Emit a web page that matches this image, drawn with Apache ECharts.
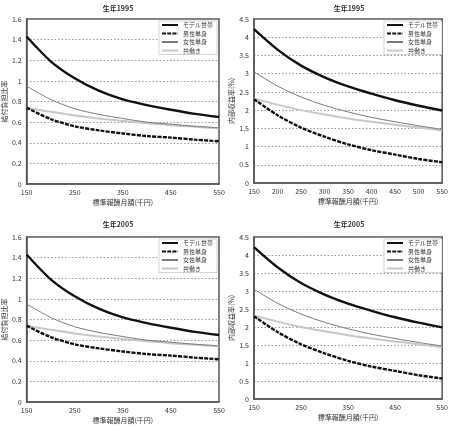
<!DOCTYPE html>
<html><head><meta charset="utf-8">
<script src="https://cdn.jsdelivr.net/npm/echarts@6/dist/echarts.min.js"></script>
<style>html,body{margin:0;padding:0;background:#fff}#c{width:451px;height:430px}</style>
</head><body><div id="c"></div>
<script>
const salary = [150, 200, 250, 300, 350, 400, 450, 500, 550];
const seriesNames = ['モデル世帯', '男性単身', '女性単身', '共働き'];
const titles = ['生年1995', '生年1995', '生年2005', '生年2005'];
const yNames = ['給付負担比率', '内部収益率(%)', '給付負担比率', '内部収益率(%)'];
const xAxisName = '標準報酬月額(千円)';

// 給付負担比率 (birth year 1995)
const ratio1995Model  = [1.43, 1.19, 1.025, 0.905, 0.82, 0.765, 0.72, 0.68, 0.65];
const ratio1995Male   = [0.74, 0.63, 0.56, 0.52, 0.49, 0.465, 0.45, 0.43, 0.415];
const ratio1995Female = [0.95, 0.82, 0.73, 0.675, 0.635, 0.60, 0.58, 0.56, 0.545];
const ratio1995Dual   = [0.74, 0.70, 0.665, 0.635, 0.61, 0.59, 0.57, 0.555, 0.54];
// 内部収益率 (birth year 1995)
const irr1995Model  = [4.22, 3.66, 3.22, 2.9, 2.65, 2.45, 2.27, 2.12, 1.99];
const irr1995Male   = [2.3, 1.86, 1.52, 1.27, 1.06, 0.9, 0.78, 0.66, 0.57];
const irr1995Female = [3.05, 2.66, 2.36, 2.13, 1.95, 1.8, 1.68, 1.57, 1.47];
const irr1995Dual   = [2.32, 2.15, 2.0, 1.88, 1.77, 1.68, 1.6, 1.52, 1.44];
// 給付負担比率 (birth year 2005)
const ratio2005Model  = [1.43, 1.19, 1.025, 0.905, 0.82, 0.765, 0.72, 0.68, 0.65];
const ratio2005Male   = [0.74, 0.63, 0.56, 0.52, 0.49, 0.465, 0.45, 0.43, 0.415];
const ratio2005Female = [0.95, 0.82, 0.73, 0.675, 0.635, 0.60, 0.58, 0.56, 0.545];
const ratio2005Dual   = [0.74, 0.70, 0.665, 0.635, 0.61, 0.59, 0.57, 0.555, 0.54];
// 内部収益率 (birth year 2005)
const irr2005Model  = [4.22, 3.66, 3.22, 2.9, 2.65, 2.45, 2.27, 2.12, 1.99];
const irr2005Male   = [2.3, 1.86, 1.52, 1.27, 1.06, 0.9, 0.78, 0.66, 0.57];
const irr2005Female = [3.05, 2.66, 2.36, 2.13, 1.95, 1.8, 1.68, 1.57, 1.47];
const irr2005Dual   = [2.32, 2.15, 2.0, 1.88, 1.77, 1.68, 1.6, 1.52, 1.44];

const panels = [
  [ratio1995Model, ratio1995Male, ratio1995Female, ratio1995Dual],
  [irr1995Model, irr1995Male, irr1995Female, irr1995Dual],
  [ratio2005Model, ratio2005Male, ratio2005Female, ratio2005Dual],
  [irr2005Model, irr2005Male, irr2005Female, irr2005Dual]
];

const FONT = '"Noto Sans CJK JP", "Noto Sans", sans-serif';
const grids = [
  {left: 22, top: 19, width: 197, height: 165},
  {left: 254, top: 19, width: 190, height: 164},
  {left: 22, top: 237, width: 197, height: 165},
  {left: 254, top: 237, width: 190, height: 162}
];
const yCfg = [
  {max: 1.6, interval: 0.2},
  {max: 4.5, interval: 0.5},
  {max: 1.6, interval: 0.2},
  {max: 4.5, interval: 0.5}
];
const xInterval = [100, 50, 100, 100];
const titleX = [113, 344, 113, 344];
const titleY = [0, 0, 216, 216];

const lineStyles = [
  {color: '#111', width: 2.4, type: 'solid'},
  {color: '#111', width: 2.4, type: [4, 1.2]},
  {color: '#7a7a7a', width: 1, type: 'solid'},
  {color: '#c8c8c8', width: 2, type: 'solid'}
];

const option = {
  backgroundColor: '#fff',
  animation: false,
  textStyle: {fontFamily: FONT},
  title: titles.map((t, i) => ({
    text: t, left: titleX[i], top: titleY[i], textAlign: 'center',
    textStyle: {fontSize: 7, fontWeight: 'bold', color: '#333', fontFamily: FONT}
  })),
  legend: grids.map((g, i) => ({
    data: seriesNames.slice(),
    orient: 'vertical',
    right: 451 - (g.left + g.width) + 2,
    top: g.top + 2,
    itemWidth: 16, itemHeight: 5, itemGap: 2.5,
    padding: [1, 4, 1, 2],
    backgroundColor: '#fff',
    borderColor: '#aaa', borderWidth: 0.5,
    itemStyle: {opacity: 0},
    textStyle: {fontSize: 6, color: '#333', fontFamily: FONT}
  })),
  grid: grids.map(g => Object.assign({containLabel: false, show: true, borderColor: '#555', borderWidth: 1.5, backgroundColor: '#fff'}, g)),
  xAxis: grids.map((g, i) => ({
    type: 'value', gridIndex: i, min: 150, max: 550, interval: xInterval[i],
    name: xAxisName, nameLocation: 'middle', nameGap: 15,
    nameTextStyle: {fontSize: 7, color: '#333', fontFamily: FONT},
    axisLine: {show: true, onZero: false, lineStyle: {color: '#555', width: 1.5}},
    axisTick: {show: false},
    axisLabel: {fontSize: 7, color: '#333', margin: 5},
    splitLine: {show: false}
  })),
  yAxis: grids.map((g, i) => ({
    type: 'value', gridIndex: i, min: 0, max: yCfg[i].max, interval: yCfg[i].interval,
    name: yNames[i], nameLocation: 'middle', nameRotate: 90, nameGap: i % 2 === 0 ? 18 : 19,
    nameTextStyle: {fontSize: 7, color: '#333', fontFamily: FONT},
    axisLine: {show: true, lineStyle: {color: '#555', width: 1.5}},
    axisTick: {show: false},
    axisLabel: {fontSize: 7, color: '#333', margin: 5},
    splitLine: {show: true, lineStyle: {color: '#999', type: [1.5, 2], width: 1}}
  })),
  series: []
};

panels.forEach((p, gi) => {
  p.forEach((vals, si) => {
    option.series.push({
      name: seriesNames[si], type: 'line', xAxisIndex: gi, yAxisIndex: gi,
      data: salary.map((s, k) => [s, vals[k]]),
      smooth: 0.3, showSymbol: false, symbol: 'none',
      lineStyle: lineStyles[si], itemStyle: {color: lineStyles[si].color},
      z: 10 - si
    });
  });
});

const chart = echarts.init(document.getElementById('c'), null, {renderer: 'canvas'});
chart.setOption(option);
</script></body></html>
